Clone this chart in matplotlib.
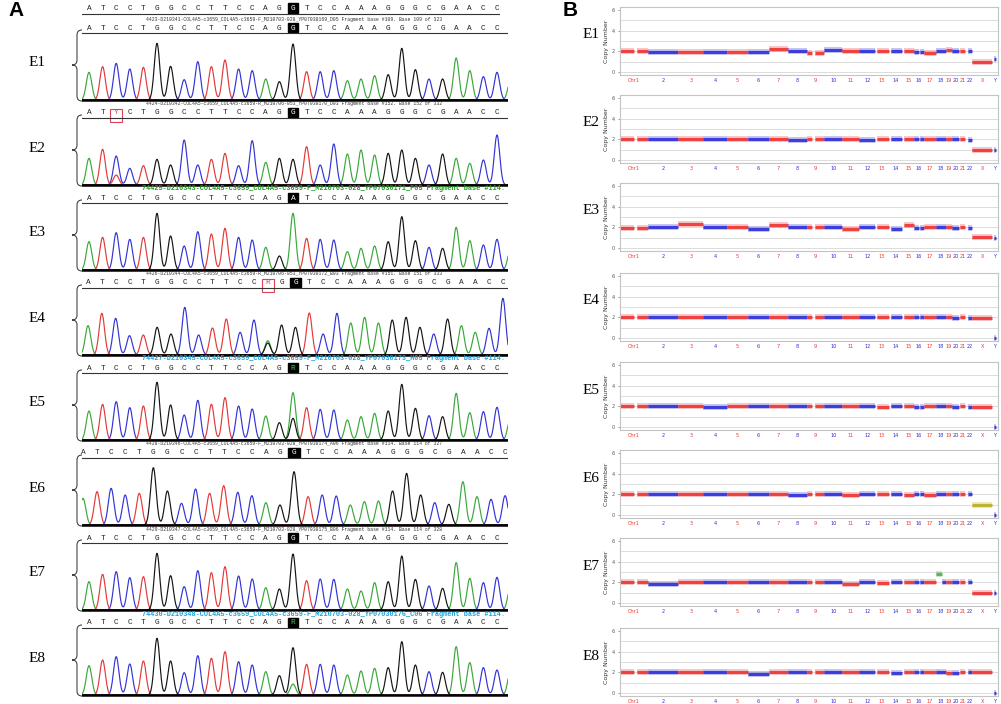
import numpy as np
import matplotlib.pyplot as plt
from matplotlib.patches import Rectangle, PathPatch
from matplotlib.path import Path

W, H = 1001, 704

# ---------------- panel A data (Sanger traces) ----------------
ref_seq = "ATCCTGGCCTTCCAGGTCCAAAGGGCGAACC"
samples = ['E1', 'E2', 'E3', 'E4', 'E5', 'E6', 'E7', 'E8']

headers = [
    "4423-D210341-COL4A5-c3659_COL4A5-c3659-F_M210703-028_YP07030169_D05 Fragment base #109. Base 109 of 323",
    "4424-D210342-COL4A5-c3659_COL4A5-c3659-R_M210706-053_YP07030170_D03 Fragment base #152. Base 152 of 332",
    "74425-D210343-COL4A5-c3659_COL4A5-c3659-F_M210703-028_YP07030171_F05 Fragment base #114. Base 114 of 330",
    "4426-D210344-COL4A5-c3659_COL4A5-c3659-R_M210706-053_YP07030172_B03 Fragment base #151. Base 151 of 333",
    "74427-D210345-COL4A5-c3659_COL4A5-c3659-F_M210703-028_YP07030173_H05 Fragment base #114. Base 114 of 329",
    "4428-D210346-COL4A5-c3659_COL4A5-c3659-F_M210703-028_YP07030174_A06 Fragment base #114. Base 114 of 327",
    "4429-D210347-COL4A5-c3659_COL4A5-c3659-F_M210703-028_YP07030175_B06 Fragment base #114. Base 114 of 328",
    "74430-D210348-COL4A5-c3659_COL4A5-c3659-F_M210703-028_YP07030176_C06 Fragment base #114. Base 114 of 331",
]
header_colors = ['#333333', '#333333', '#1f9a1f', '#333333', '#19a3dd', '#333333', '#333333', '#19a3dd']

# called letters that differ from the reference (index -> letter)
called = [{}, {2: 'Y'}, {15: 'A'}, {13: 'R'}, {15: 'R'}, {}, {}, {15: 'R'}]
boxed = [None, 2, None, 13, None, None, None, None]          # red boxed heterozygous calls
main_base = [{}, {}, {15: 'A'}, {}, {15: 'A'}, {}, {}, {}]   # dominant peak differs from reference

e1_peaks = [83, 100, 110, 93, 98, 170, 101, 61, 115, 100, 120, 93, 88, 63, 55, 168,
            85, 85, 88, 58, 63, 73, 76, 155, 91, 63, 63, 126, 88, 70, 83]
e2_peaks = [80, 107, 87, 50, 58, 77, 60, 135, 60, 77, 95, 58, 133, 68, 80, 77,
            115, 60, 123, 93, 105, 90, 95, 105, 80, 60, 93, 80, 65, 75, 150]
e3_peaks = [85, 98, 112, 92, 98, 170, 102, 72, 115, 108, 125, 98, 90, 68, 42, 170,
            95, 92, 90, 55, 65, 72, 85, 160, 88, 68, 65, 128, 88, 75, 92]
e4_peaks = [88, 125, 110, 58, 60, 83, 63, 143, 60, 81, 108, 68, 105, 43, 90, 83,
            126, 63, 125, 96, 113, 96, 105, 113, 83, 63, 108, 88, 68, 80, 170]
e5_peaks = [87, 107, 115, 97, 102, 173, 105, 75, 119, 107, 127, 102, 93, 72, 52, 142,
            97, 92, 90, 60, 70, 80, 87, 167, 95, 73, 70, 140, 82, 85, 98]
e6_peaks = [80, 100, 110, 90, 95, 172, 102, 65, 108, 95, 118, 98, 88, 67, 60, 160,
            85, 90, 87, 60, 70, 72, 102, 155, 90, 67, 62, 130, 85, 77, 88]
e7_peaks = [85, 107, 115, 97, 100, 170, 103, 70, 118, 112, 130, 102, 93, 67, 63, 168,
            88, 93, 92, 63, 57, 82, 85, 162, 92, 72, 65, 142, 95, 82, 98]
e8_peaks = [88, 105, 115, 93, 102, 170, 102, 67, 118, 110, 130, 100, 90, 70, 58, 142,
            92, 92, 90, 60, 72, 80, 82, 160, 90, 70, 68, 145, 97, 82, 75]
peak_heights = [e1_peaks, e2_peaks, e3_peaks, e4_peaks, e5_peaks, e6_peaks, e7_peaks, e8_peaks]

# minor (second allele) peaks: (index, base, height)
minor_peaks = [[], [(2, 'T', 30)], [], [(13, 'G', 36)], [(15, 'G', 65)], [], [], [(15, 'A', 33)]]
# partially visible peak after the last called base
tail_base = ['A', None, 'A', None, 'A', None, 'A', 'A']
tail_height = [60, 0, 65, 0, 70, 0, 72, 75]

# ---------------- panel B data (copy number) ----------------
chrom_names = ['Chr1', '2', '3', '4', '5', '6', '7', '8', '9', '10', '11', '12', '13',
               '14', '15', '16', '17', '18', '19', '20', '21', '22', 'X', 'Y']
chrom_widths = [85, 90, 75, 70, 65, 62, 58, 55, 54, 53, 52, 47, 42, 40, 35, 30, 35, 30,
                20, 20, 22, 18, 60, 12]
chrom_parts = {0: [(0, 0.48), (0.6, 1)], 8: [(0, 0.3), (0.45, 1)], 12: [(0.12, 1)],
               13: [(0.12, 1)], 14: [(0.15, 1)], 15: [(0, 0.45), (0.55, 1)],
               20: [(0.2, 0.8)], 21: [(0.2, 1)], 22: [(0, 0.97)], 23: [(0.3, 0.9)]}

e1_cn = [2.0, 1.95, 1.95, 1.95, 1.93, 1.92, 2.25, 2.08, 1.82, 2.15, 2.05, 2.0, 2.05, 2.0,
         2.05, 1.95, 1.9, 2.05, 2.1, 2.05, 2.0, 2.0, 1.0, 1.25]
e2_cn = [2.0, 2.03, 2.03, 2.02, 2.0, 2.05, 2.03, 1.95, 2.0, 2.0, 2.02, 1.98, 2.0, 2.0,
         2.08, 2.0, 2.0, 2.0, 2.02, 2.03, 2.0, 1.95, 1.0, 1.0]
e3_cn = [1.97, 2.0, 2.3, 2.02, 2.02, 1.85, 2.28, 2.0, 2.02, 2.02, 1.85, 2.0, 2.05, 1.88,
         2.2, 1.95, 2.02, 2.0, 2.0, 1.97, 2.0, 1.98, 1.05, 1.0]
e4_cn = [2.0, 2.0, 2.02, 2.02, 2.0, 2.02, 2.0, 2.0, 2.0, 2.0, 2.0, 2.0, 2.0, 2.0,
         2.0, 2.0, 2.03, 2.0, 2.0, 1.98, 2.0, 1.98, 1.98, 0.05]
e5_cn = [2.0, 2.02, 2.0, 1.97, 2.02, 2.02, 2.03, 2.0, 2.0, 2.0, 2.0, 2.0, 1.97, 2.0,
         2.0, 1.95, 2.02, 2.02, 2.0, 1.98, 2.0, 1.98, 1.95, 0.08]
e6_cn = [2.0, 2.0, 2.0, 2.02, 2.0, 2.02, 2.03, 1.98, 2.0, 2.0, 1.98, 2.0, 2.0, 2.0,
         1.98, 2.0, 1.95, 2.0, 2.0, 2.0, 2.0, 2.0, 1.0, 0.0]
e7_cn = [2.0, 1.82, 2.05, 2.03, 2.03, 2.03, 2.0, 2.0, 2.0, 2.0, 1.85, 2.02, 1.97, 2.0,
         2.02, 2.0, 2.0, 2.0, 2.0, 2.0, 2.0, 2.0, 1.0, 1.0]
e8_cn = [2.0, 2.02, 2.0, 2.05, 2.0, 1.88, 2.02, 2.0, 2.0, 2.0, 2.02, 2.0, 2.0, 1.98,
         2.0, 2.0, 2.0, 2.0, 1.98, 1.98, 2.0, 2.0, 2.0, 0.08]
copy_numbers = [e1_cn, e2_cn, e3_cn, e4_cn, e5_cn, e6_cn, e7_cn, e8_cn]
# E7: partial gain on chr18 (index 17): (chrom, start frac, end frac, level)
e7_gain = (17, 0.0, 0.62, 2.85)

# ---------------- drawing ----------------
trace_colors = {'A': '#3aa83a', 'C': '#3434d6', 'G': '#151515', 'T': '#e23a3a'}
RED, BLUE = '#ee3434', '#3030d8'
mono = 'Liberation Mono'

fig = plt.figure(figsize=(W / 100, H / 100), dpi=100)


def px_axes(x0, y0, x1, y1):
    return fig.add_axes([x0 / W, 1 - y1 / H, (x1 - x0) / W, (y1 - y0) / H])


over = fig.add_axes([0, 0, 1, 1], zorder=5)
over.set_xlim(0, W)
over.set_ylim(H, 0)
over.axis('off')

over.text(16, 11, 'A', fontsize=15, fontweight='bold', family='Liberation Sans', ha='center', va='center')
over.text(570, 11, 'B', fontsize=15, fontweight='bold', family='Liberation Sans', ha='center', va='center')

# reference sequence on top
x0, step = 89, 13.6
ax = px_axes(82, 0, 500, 18)
ax.set_xlim((82 - x0) / step, (500 - x0) / step)
ax.set_ylim(18, 0)
ax.axis('off')
for i, b in enumerate(ref_seq):
    col = '#222222'
    if i == 15:
        ax.add_patch(Rectangle((i - 0.4, 3), 0.8, 10, color='black'))
        col = 'white'
    ax.text(i, 8.5, b, ha='center', va='center', fontsize=5.6, family=mono, color=col)
ax.plot(ax.get_xlim(), [14, 14], color='#333333', lw=0.8)

row_x0 = [89, 89, 89, 88, 89, 83, 89, 89]
row_step = [13.6, 13.6, 13.6, 13.83, 13.6, 14.07, 13.6, 13.6]
sigma = 0.2

for k, name in enumerate(samples):
    base_px = 100 + 85 * k
    x0, step = row_x0[k], row_step[k]
    ax = px_axes(82, base_px - 86, 508, base_px + 2)
    xl = ((82 - x0) / step, (508 - x0) / step)
    ax.set_xlim(*xl)
    ax.set_ylim(-6, 258)
    ax.axis('off')

    bases = list(ref_seq)
    for i, b in main_base[k].items():
        bases[i] = b
    pos = list(range(len(bases)))
    hts = list(peak_heights[k])
    if tail_base[k]:
        bases.append(tail_base[k])
        pos.append(len(ref_seq))
        hts.append(tail_height[k])

    xs = np.linspace(xl[0], xl[1], 1500)
    for letter in 'ACTG':
        ys = np.zeros_like(xs)
        for p, b, h in zip(pos, bases, hts):
            if b == letter:
                ys += h * np.exp(-0.5 * ((xs - p) / sigma) ** 2)
        for p, b, h in minor_peaks[k]:
            if b == letter:
                ys += h * np.exp(-0.5 * ((xs - p) / sigma) ** 2)
        ax.plot(xs, ys, color=trace_colors[letter], lw=0.85)
    ax.plot(xl, [0, 0], color='black', lw=1.8)

    # called sequence
    for i, b in enumerate(ref_seq):
        letter = called[k].get(i, b)
        col = '#222222'
        if i == 15:
            ax.add_patch(Rectangle((i - 0.4, 203), 0.8, 28, color='black'))
            col = '#3fd03f' if letter == 'R' else 'white'
        if boxed[k] == i:
            ax.add_patch(Rectangle((i - 0.42, 189), 0.84, 39, fill=False, ec='#e0405a', lw=0.8))
            col = '#e0405a'
        ax.text(i, 216, letter, ha='center', va='center', fontsize=5.6, family=mono, color=col)
    ax.plot(xl, [201, 201], color='#333333', lw=0.8)

    # trace header
    if header_colors[k] == '#333333':
        ax.text((294 - x0) / step, 243, headers[k], ha='center', va='center', fontsize=3.4,
                family=mono, color='#333333', clip_on=True)
    else:
        ax.text((142 - x0) / step, 243, headers[k], ha='left', va='center', fontsize=4.95,
                family=mono, fontweight='bold', color=header_colors[k], clip_on=True)

    # brace and label
    top, bot, mid = base_px - 70, base_px + 1, base_px - 35
    verts = [(82, top), (77, top), (77, top + 5), (77, mid - 5), (77, mid), (72, mid),
             (77, mid), (77, mid + 5), (77, bot - 5), (77, bot), (82, bot)]
    codes = [Path.MOVETO, Path.CURVE3, Path.CURVE3, Path.LINETO, Path.CURVE3, Path.CURVE3,
             Path.CURVE3, Path.CURVE3, Path.LINETO, Path.CURVE3, Path.CURVE3]
    over.add_patch(PathPatch(Path(verts, codes), fill=False, ec='#444444', lw=0.8))
    over.text(37, base_px - 37, name, fontsize=11, family='Liberation Serif', ha='center', va='center')

# ---------------- panel B ----------------
starts = np.concatenate([[0], np.cumsum(chrom_widths)[:-1]])
centers = starts + np.array(chrom_widths) / 2
chrom_colors = [RED if i % 2 == 0 else BLUE for i in range(22)] + [RED, BLUE]
b_tops = [7, 95, 183, 273, 362, 450, 538, 628]

for k, name in enumerate(samples):
    top = b_tops[k]
    ax = px_axes(620, top, 998, top + 68)
    ax.set_xlim(0, 1135)
    ax.set_ylim(-0.25, 6.25)
    for v in range(0, 6):
        ax.axhline(v, color='#dcdcdc', lw=0.7, zorder=0)
    for s in ax.spines.values():
        s.set_color('#c4c4c4')
        s.set_linewidth(0.8)
    ax.set_yticks([0, 2, 4, 6])
    ax.set_yticklabels(['0', '2', '4', '6'], fontsize=3.5, color='#555555')
    ax.tick_params(axis='y', length=1.5, width=0.4, pad=2, colors='#555555')
    ax.set_xticks(centers)
    ax.set_xticklabels(chrom_names, fontsize=3.6)
    for lab, c in zip(ax.get_xticklabels(), chrom_colors):
        lab.set_color(c)
    ax.tick_params(axis='x', length=0, pad=2)
    ax.set_ylabel('Copy Number', fontsize=4.5, labelpad=2, color='#333333')

    for c in range(24):
        col = chrom_colors[c]
        if k == 5 and c == 22:
            col = '#b8b020'
        parts = chrom_parts.get(c, [(0, 1)])
        level = copy_numbers[k][c]
        for a, b in parts:
            segs = [(a, b, level, col)]
            if k == 6 and c == e7_gain[0]:
                segs = [(e7_gain[1], e7_gain[2], e7_gain[3], '#4fb04f'),
                        (e7_gain[2] + 0.05, b, level, col)]
            for sa, sb, lv, sc in segs:
                xa = starts[c] + sa * chrom_widths[c]
                xb = starts[c] + sb * chrom_widths[c]
                ax.plot([xa, xb], [lv, lv], color=sc, lw=4.2, alpha=0.3, solid_capstyle='butt')
                ax.plot([xa, xb], [lv, lv], color=sc, lw=2.2, alpha=0.9, solid_capstyle='butt')

    over.text(591, top + 28, name, fontsize=11, family='Liberation Serif', ha='center', va='center')

fig.savefig('out.png', dpi=100, facecolor='white')
